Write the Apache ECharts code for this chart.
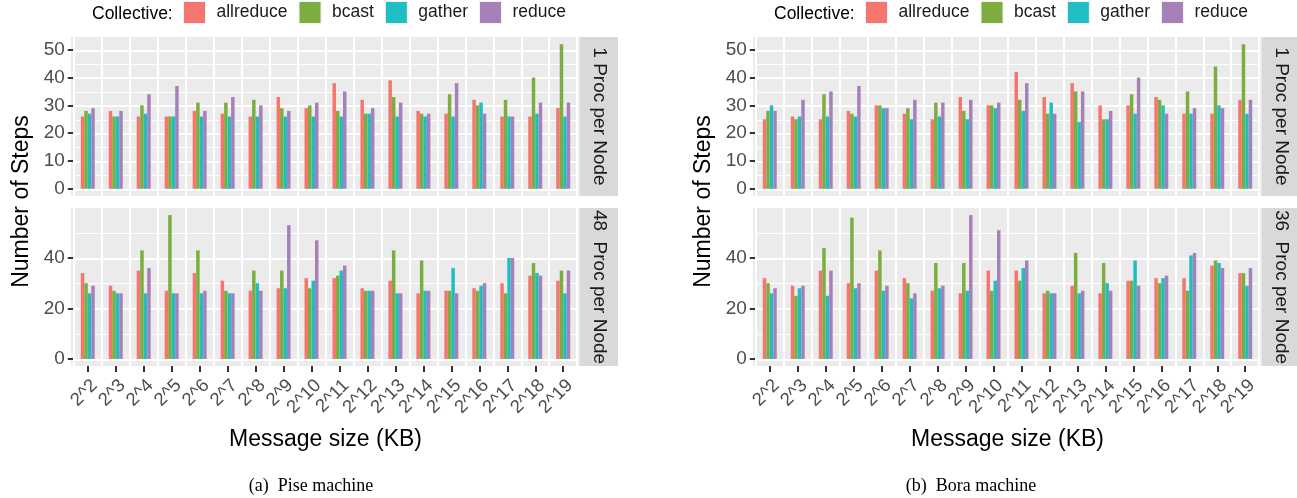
<!DOCTYPE html>
<html><head><meta charset="utf-8">
<script src="https://cdn.jsdelivr.net/npm/echarts@6/dist/echarts.min.js"></script>
<style>html,body{margin:0;padding:0;background:#fff}#c{width:1297px;height:498px}</style>
</head><body><div id="c"></div>
<script>
// ---------- data ----------
const categories = ['2^2','2^3','2^4','2^5','2^6','2^7','2^8','2^9','2^10','2^11','2^12','2^13','2^14','2^15','2^16','2^17','2^18','2^19'];
const collectives = ['allreduce','bcast','gather','reduce'];

// Pise machine, 1 Proc per Node
const piseOneAllreduce = [26,28,26,26,28,27,26,33,29,38,32,39,28,27,32,26,26,29];
const piseOneBcast     = [28,26,30,26,31,31,32,29,30,28,27,33,27,34,30,32,40,52];
const piseOneGather    = [27,26,27,26,26,26,26,26,26,26,27,26,26,26,31,26,27,26];
const piseOneReduce    = [29,28,34,37,28,33,30,28,31,35,29,31,27,38,27,26,31,31];
// Pise machine, 48 Proc per Node
const piseManyAllreduce = [34,29,35,27,34,31,27,28,32,32,28,31,26,27,28,30,33,31];
const piseManyBcast     = [30,27,43,57,43,27,35,35,28,33,27,43,39,27,27,26,38,35];
const piseManyGather    = [26,26,26,26,26,26,30,28,31,35,27,26,27,36,29,40,34,26];
const piseManyReduce    = [29,26,36,26,27,26,27,53,47,37,27,26,27,26,30,40,33,35];
// Bora machine, 1 Proc per Node
const boraOneAllreduce = [25,26,25,28,30,27,25,33,30,42,33,38,30,30,33,27,27,32];
const boraOneBcast     = [28,25,34,27,30,29,31,28,30,32,27,35,25,34,32,35,44,52];
const boraOneGather    = [30,26,26,26,29,25,26,25,29,28,31,24,25,27,30,27,30,27];
const boraOneReduce    = [28,32,35,37,29,32,31,32,31,38,27,35,28,40,27,29,29,32];
// Bora machine, 36 Proc per Node
const boraManyAllreduce = [32,29,35,30,35,32,27,26,35,35,26,29,26,31,32,32,37,34];
const boraManyBcast     = [30,25,44,56,43,30,38,38,27,31,27,42,38,31,30,27,39,34];
const boraManyGather    = [26,28,25,28,27,24,28,27,31,36,26,26,30,39,32,41,38,29];
const boraManyReduce    = [28,29,35,30,29,26,29,57,51,39,26,27,27,29,33,42,36,36];

const topBreaks = [0,10,20,30,40,50];
const topMinorBreaks = [5,15,25,35,45];
const bottomBreaks = [0,20,40];
const bottomMinorBreaks = [10,30,50];

// ---------- layout / style ----------
const FONT = 'Liberation Sans';
const colors = ['#F4766E','#7CAE3F','#1FBEC3','#A780B9'];
const PW = 509;
const INSET = PW * 0.1 / 18.2;
const STEP = 0.2;
const STRIP_W = 38;
const SHIFT = 1; // first split line is not counted by the colour cycle

const panels = [
  { left: 71, rows: [[piseOneAllreduce,piseOneBcast,piseOneGather,piseOneReduce],[piseManyAllreduce,piseManyBcast,piseManyGather,piseManyReduce]],
    strips: ['1 Proc per Node','48  Proc per Node'], caption: '(a)  Pise machine', captionX: 311 },
  { left: 753, rows: [[boraOneAllreduce,boraOneBcast,boraOneGather,boraOneReduce],[boraManyAllreduce,boraManyBcast,boraManyGather,boraManyReduce]],
    strips: ['1 Proc per Node','36  Proc per Node'], caption: '(b)  Bora machine', captionX: 971 }
];
const rows = [
  { top: 37, height: 159, min: -2.6, max: 54.6, breaks: topBreaks, minor: topMinorBreaks },
  { top: 208, height: 158, min: -2.8, max: 59.8, breaks: bottomBreaks, minor: bottomMinorBreaks }
];

function lineColors(row, list) {
  const n = Math.round((row.max - row.min) / STEP);
  const out = [];
  for (let k = 0; k <= n; k++) {
    const v = row.min + (k + SHIFT) * STEP;
    const r = Math.round(v);
    out.push(Math.abs(v - r) < 1e-6 && list.includes(r) ? '#FFFFFF' : 'rgba(255,255,255,0)');
  }
  return out;
}
const xLineColors = [];
for (let k = 0; k <= 2 * categories.length; k++) xLineColors.push((k + SHIFT) % 2 === 1 ? '#FFFFFF' : 'rgba(255,255,255,0)');

const grid = [], xAxis = [], yAxis = [], series = [], graphic = [];
const hiddenAxis = (gi) => ({ gridIndex: gi, type: 'value', show: false, min: 0, max: 1 });
const noLine = { show: false, onZero: false };

panels.forEach((p) => {
  // spanning grid for the y axis title
  let gi = grid.length;
  grid.push({ left: p.left, top: 37, width: PW, height: 329, show: false });
  xAxis.push(hiddenAxis(gi));
  yAxis.push({ gridIndex: gi, type: 'value', min: 0, max: 1, name: 'Number of Steps', nameLocation: 'middle', nameGap: 38, nameRotate: 90,
    nameTextStyle: { fontSize: 23, color: '#000', fontFamily: FONT },
    axisLine: noLine, axisTick: { show: false }, axisLabel: { show: false }, splitLine: { show: false } });

  rows.forEach((row, ri) => {
    const isBottom = ri === rows.length - 1;
    // background panel
    gi = grid.length;
    grid.push({ left: p.left, top: row.top, width: PW, height: row.height, show: true, backgroundColor: '#EBEBEB', borderWidth: 0, z: 0 });
    xAxis.push(hiddenAxis(gi)); yAxis.push(hiddenAxis(gi));
    // main grid
    gi = grid.length;
    grid.push({ left: p.left + INSET, top: row.top, width: PW - 2 * INSET, height: row.height, show: false });
    const xCat = xAxis.length;
    xAxis.push({ gridIndex: gi, type: 'category', data: categories, boundaryGap: true, axisLine: noLine,
      axisTick: { show: isBottom, alignWithLabel: true, length: 6, lineStyle: { color: '#333333', width: 2 } },
      axisLabel: { show: isBottom, interval: 0, rotate: 45, margin: 10, align: 'right', verticalAlign: 'top', fontSize: 18.5, color: '#4D4D4D', fontFamily: FONT },
      splitLine: { show: false },
      name: isBottom ? 'Message size (KB)' : '', nameLocation: 'middle', nameGap: 62,
      nameTextStyle: { fontSize: 23, color: '#000', fontFamily: FONT } });
    xAxis.push({ gridIndex: gi, type: 'value', min: 0, max: 2 * categories.length, interval: 1, z: 1, axisLine: noLine,
      axisTick: { show: false }, axisLabel: { show: false }, splitLine: { show: true, lineStyle: { color: xLineColors, width: 2 } } });
    const yLab = yAxis.length;
    yAxis.push({ gridIndex: gi, type: 'value', min: row.min, max: row.max, axisLine: noLine,
      axisTick: { show: true, length: 6, lineStyle: { color: '#333333', width: 2 }, customValues: row.breaks },
      axisLabel: { customValues: row.breaks, fontSize: 19, color: '#4D4D4D', fontFamily: FONT, margin: 9 },
      splitLine: { show: false } });
    yAxis.push({ gridIndex: gi, type: 'value', position: 'left', min: row.min, max: row.max, interval: STEP, z: 1, axisLine: noLine,
      axisTick: { show: false }, axisLabel: { show: false }, splitLine: { show: true, lineStyle: { color: lineColors(row, row.breaks), width: 2 } } });
    yAxis.push({ gridIndex: gi, type: 'value', position: 'left', min: row.min, max: row.max, interval: STEP, z: 1, axisLine: noLine,
      axisTick: { show: false }, axisLabel: { show: false }, splitLine: { show: true, lineStyle: { color: lineColors(row, row.minor), width: 1 } } });

    p.rows[ri].forEach((vals, ci) => {
      series.push({ type: 'bar', name: collectives[ci], xAxisIndex: xCat, yAxisIndex: yLab, data: vals,
        barWidth: '12.5%', barGap: '0%', itemStyle: { color: colors[ci] }, silent: true });
    });

    // facet strip
    graphic.push({ type: 'rect', shape: { x: p.left + PW, y: row.top, width: STRIP_W, height: row.height }, style: { fill: '#D9D9D9' } });
    graphic.push({ type: 'text', x: p.left + PW + STRIP_W / 2, y: row.top + row.height / 2, rotation: -Math.PI / 2,
      style: { text: p.strips[ri], font: '19px "Liberation Sans"', fill: '#1A1A1A', align: 'center', verticalAlign: 'middle', textAlign: 'center', textVerticalAlign: 'middle' } });
  });
  graphic.push({ type: 'text', x: p.captionX, y: 486,
    style: { text: p.caption, font: '18px "Liberation Serif"', fill: '#000', align: 'center', verticalAlign: 'middle', textAlign: 'center', textVerticalAlign: 'middle' } });
});

const legendBase = { top: 1, padding: 0, itemWidth: 22, itemHeight: 22, itemGap: 11, icon: 'rect', selectedMode: false,
  itemStyle: { borderColor: '#F2F2F2', borderWidth: 1 },
  textStyle: { fontSize: 17.5, color: '#1A1A1A', fontFamily: FONT, padding: [2, 0, 0, 6] }, data: collectives };
const titleBase = { text: 'Collective:', top: 5, padding: 0, textStyle: { fontSize: 17.5, fontWeight: 'normal', color: '#000', fontFamily: FONT } };

const option = {
  animation: false,
  backgroundColor: '#FFFFFF',
  textStyle: { fontFamily: FONT },
  title: [Object.assign({ left: 92 }, titleBase), Object.assign({ left: 774 }, titleBase)],
  legend: [Object.assign({ left: 183 }, legendBase), Object.assign({ left: 865 }, legendBase)],
  grid, xAxis, yAxis, series, graphic
};
const chart = echarts.init(document.getElementById('c'), null, { renderer: 'canvas' });
chart.setOption(option);
</script>
</body></html>
